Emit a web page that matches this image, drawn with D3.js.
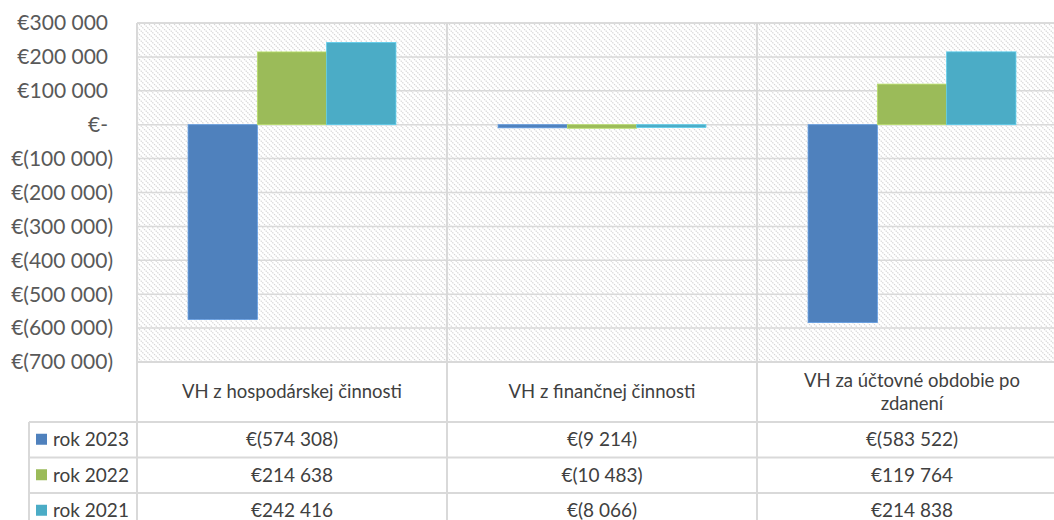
<!DOCTYPE html>
<html>
<head>
<meta charset="utf-8">
<script src="https://cdn.jsdelivr.net/npm/d3@7"></script>
<style>
    body { margin: 0; background: #ffffff; }
    svg { display: block; font-family: Lato, "Open Sans", sans-serif; }
</style>
</head>
<body>
<script>
// data
var categories = ["VH z hospodárskej činnosti", "VH z finančnej činnosti", "VH za účtovné obdobie po zdanení"];
var categoryLines = [["VH z hospodárskej činnosti"], ["VH z finančnej činnosti"], ["VH za účtovné obdobie po", "zdanení"]];
var seriesNames = ["rok 2023", "rok 2022", "rok 2021"];
var seriesColors = ["#4f81bd", "#9bbb59", "#4bacc6"];
var rok2023 = [-574308, -9214, -583522];
var rok2022 = [214638, -10483, 119764];
var rok2021 = [242416, -8066, 214838];
var seriesValues = [rok2023, rok2022, rok2021];
var yTicks = [300000, 200000, 100000, 0, -100000, -200000, -300000, -400000, -500000, -600000, -700000];

var W = 1054, H = 520;
var plotLeft = 137, plotRight = 1067, plotTop = 23, plotBottom = 362;
var labelRowH = 60, rowH = 35.5, legendLeft = 29;
var gridColor = "#d9d9d9";
var textColor = "#404040";

var svg = d3.select("body").append("svg")
    .attr("width", W)
    .attr("height", H);

// hatch pattern for the plot area
var defs = svg.append("defs");
var pat = defs.append("pattern")
    .attr("id", "hatch")
    .attr("patternUnits", "userSpaceOnUse")
    .attr("width", 5)
    .attr("height", 5);
pat.append("rect").attr("width", 5).attr("height", 5).attr("fill", "#ffffff");
pat.append("path")
    .attr("d", "M-1,-1 L6,6 M-1,4 L1,6 M4,-1 L6,1")
    .attr("stroke", "#d4d4d4")
    .attr("stroke-width", 1.2)
    .attr("stroke-dasharray", "1.4,1");

var x0 = d3.scaleBand()
    .domain(categories)
    .range([plotLeft, plotRight])
    .padding(0);

var x1 = d3.scaleBand()
    .domain(seriesNames)
    .range([0, x0.bandwidth()])
    .paddingInner(0)
    .paddingOuter(0.737);

var y = d3.scaleLinear()
    .domain([-700000, 300000])
    .range([plotBottom, plotTop]);

svg.append("rect")
    .attr("x", plotLeft)
    .attr("y", plotTop)
    .attr("width", plotRight - plotLeft)
    .attr("height", plotBottom - plotTop)
    .attr("fill", "url(#hatch)");

// horizontal gridlines
svg.append("g").selectAll("line")
    .data(yTicks)
    .join("line")
    .attr("x1", plotLeft)
    .attr("x2", plotRight)
    .attr("y1", d => y(d))
    .attr("y2", d => y(d))
    .attr("stroke", gridColor)
    .attr("stroke-width", 1.5);

// accounting style labels
function fmt(v) {
    if (v === 0) return "€-";
    var s = d3.format(",")(Math.abs(v)).replace(/,/g, " ");
    return v < 0 ? "€(" + s + ")" : "€" + s;
}

svg.append("g").selectAll("text")
    .data(yTicks)
    .join("text")
    .attr("x", d => d < 0 ? 113 : 108)
    .attr("y", d => y(d))
    .attr("dy", "0.35em")
    .attr("text-anchor", "end")
    .attr("fill", "#595959")
    .attr("font-size", 21)
    .text(fmt);

// bars
var barData = [];
categories.forEach(function (c, ci) {
    seriesNames.forEach(function (s, si) {
        barData.push({ cat: c, series: s, value: seriesValues[si][ci], color: seriesColors[si] });
    });
});

svg.append("g").selectAll("rect")
    .data(barData)
    .join("rect")
    .attr("x", d => x0(d.cat) + x1(d.series))
    .attr("y", d => y(Math.max(0, d.value)))
    .attr("width", x1.bandwidth())
    .attr("height", d => Math.abs(y(d.value) - y(0)))
    .attr("fill", d => d.color)
    .attr("stroke", d => d3.color(d.color).brighter(0.5))
    .attr("stroke-width", 0.8);

// data table
var tableTop = plotBottom;
var rowsTop = tableTop + labelRowH;
var g = svg.append("g");

g.append("line")
    .attr("x1", plotLeft).attr("x2", plotRight)
    .attr("y1", plotTop).attr("y2", plotTop)
    .attr("stroke", gridColor).attr("stroke-width", 1.5);
g.append("line")
    .attr("x1", plotLeft).attr("x2", plotRight)
    .attr("y1", tableTop).attr("y2", tableTop)
    .attr("stroke", gridColor).attr("stroke-width", 2);
g.selectAll("line.row")
    .data(d3.range(seriesNames.length + 1))
    .join("line")
    .attr("class", "row")
    .attr("x1", legendLeft).attr("x2", plotRight)
    .attr("y1", i => rowsTop + i * rowH)
    .attr("y2", i => rowsTop + i * rowH)
    .attr("stroke", gridColor).attr("stroke-width", 2);

g.selectAll("line.col")
    .data(categories.concat(["end"]))
    .join("line")
    .attr("class", "col")
    .attr("x1", d => d === "end" ? plotRight : x0(d))
    .attr("x2", d => d === "end" ? plotRight : x0(d))
    .attr("y1", plotTop)
    .attr("y2", rowsTop + seriesNames.length * rowH)
    .attr("stroke", gridColor).attr("stroke-width", 2);
g.append("line")
    .attr("x1", legendLeft).attr("x2", legendLeft)
    .attr("y1", rowsTop).attr("y2", rowsTop + seriesNames.length * rowH)
    .attr("stroke", gridColor).attr("stroke-width", 2);

// category labels
var catLabels = g.selectAll("text.cat")
    .data(categories)
    .join("text")
    .attr("class", "cat")
    .attr("x", d => x0(d) + x0.bandwidth() / 2)
    .attr("text-anchor", "middle")
    .attr("fill", textColor)
    .attr("font-size", 18.5);
catLabels.each(function (d, i) {
    var lines = categoryLines[i];
    var lh = 23;
    var start = tableTop + labelRowH / 2 - (lines.length - 1) * lh / 2;
    d3.select(this).selectAll("tspan")
        .data(lines)
        .join("tspan")
        .attr("x", x0(d) + x0.bandwidth() / 2)
        .attr("y", (l, j) => start + j * lh)
        .attr("dy", "0.35em")
        .text(l => l);
});

// legend keys and values
seriesNames.forEach(function (s, si) {
    var cy = rowsTop + si * rowH + rowH / 2;
    g.append("rect")
        .attr("x", 36)
        .attr("y", cy - 6)
        .attr("width", 11)
        .attr("height", 11)
        .attr("fill", seriesColors[si]);
    g.append("text")
        .attr("x", 53)
        .attr("y", cy)
        .attr("dy", "0.35em")
        .attr("fill", textColor)
        .attr("font-size", 19)
        .text(s);
    g.selectAll("text.v" + si)
        .data(categories)
        .join("text")
        .attr("class", "v" + si)
        .attr("x", d => x0(d) + x0.bandwidth() / 2)
        .attr("y", cy)
        .attr("dy", "0.35em")
        .attr("text-anchor", "middle")
        .attr("fill", textColor)
        .attr("font-size", 19)
        .text((d, ci) => fmt(seriesValues[si][ci]));
});
</script>
</body>
</html>
